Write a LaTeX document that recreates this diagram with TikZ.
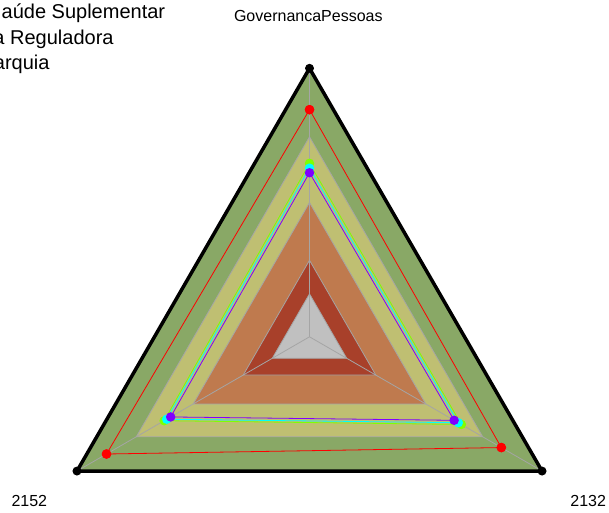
\documentclass[tikz,border=0pt]{standalone}
\usepackage{fontspec}
\setmainfont{Liberation Sans}
\definecolor{cgreen}{RGB}{137,168,102}
\definecolor{cyellow}{RGB}{191,191,114}
\definecolor{corange}{RGB}{191,122,78}
\definecolor{cdred}{RGB}{168,64,42}
\definecolor{cgray}{RGB}{192,192,192}
\definecolor{axisgray}{RGB}{165,165,165}
\definecolor{slime}{RGB}{128,255,0}
\definecolor{scyan}{RGB}{0,255,255}
\definecolor{spurple}{RGB}{128,0,255}
\definecolor{sred}{RGB}{255,0,0}
\newcommand{\mytri}[1]{(90:{#1*268.5}) -- (210:{#1*268.5}) -- (330:{#1*268.5}) -- cycle}
\begin{document}
\begin{tikzpicture}[x=1pt,y=1pt,
  band/.style={draw=axisgray, line width=0.8pt},
  axisline/.style={draw=axisgray, line width=0.8pt},
  vdot/.style={circle, fill=black, inner sep=0pt, minimum size=9pt},
  sdot/.style={circle, fill=#1, inner sep=0pt, minimum size=9.5pt},
  sline/.style={draw=#1, line width=0.8pt},
  axlabel/.style={font=\fontsize{16}{19}\selectfont, inner sep=0pt, anchor=base},
  leglabel/.style={font=\fontsize{20}{24}\selectfont, inner sep=0pt, anchor=base west}]
\useasboundingbox (0,0) rectangle (609,512);
\node[leglabel] (lg1) at (1.5,493) {aúde Suplementar};
\node[leglabel] (lg2) at (-6.7,467) {a Reguladora};
\node[leglabel] (lg3) at (-6.3,442) {arquia};
\node[axlabel] (labtop) at (308.3,490.3) {GovernancaPessoas};
\node[axlabel] (labbl) at (29.3,5.3) {2152};
\node[axlabel] (labbr) at (588.2,5.3) {2132};
\begin{scope}[shift={(309.5,175.2)}]
  \coordinate (O) at (0,0);
  \fill[cgreen, band] \mytri{1.0};
  \fill[cyellow, band] \mytri{0.745};
  \fill[corange, band] \mytri{0.5};
  \fill[cdred, band] \mytri{0.285};
  \fill[cgray, band] \mytri{0.16};
  \coordinate (vt) at (90:268.5);
  \coordinate (vl) at (210:268.5);
  \coordinate (vr) at (330:268.5);
  \draw[axisline] (O) -- (vt);
  \draw[axisline] (O) -- (vl);
  \draw[axisline] (O) -- (vr);
  \draw[line width=3.5pt, line join=round] (vt) -- (vl) -- (vr) -- cycle;
  \node[vdot] (dt) at (vt) {};
  \node[vdot] (dl) at (vl) {};
  \node[vdot] (dr) at (vr) {};
  % red series
  \node[sdot=sred] (r1) at (90:{0.846*268.5}) {};
  \node[sdot=sred] (r2) at (210:{0.873*268.5}) {};
  \node[sdot=sred] (r3) at (330:{0.825*268.5}) {};
  \draw[sline=sred] (r1.center) -- (r2.center) -- (r3.center) -- cycle;
  \node[sdot=sred] at (r1) {};
  \node[sdot=sred] at (r2) {};
  \node[sdot=sred] at (r3) {};
  % lime series
  \coordinate (g1) at (90:{0.646*268.5});
  \coordinate (g2) at (210:{0.625*268.5});
  \coordinate (g3) at (330:{0.653*268.5});
  \draw[sline=slime] (g1) -- (g2) -- (g3) -- cycle;
  \node[sdot=slime] (gd1) at (g1) {};
  \node[sdot=slime] (gd2) at (g2) {};
  \node[sdot=slime] (gd3) at (g3) {};
  % cyan series
  \coordinate (c1) at (90:{0.628*268.5});
  \coordinate (c2) at (210:{0.614*268.5});
  \coordinate (c3) at (330:{0.640*268.5});
  \draw[sline=scyan] (c1) -- (c2) -- (c3) -- cycle;
  \node[sdot=scyan] (cd1) at (c1) {};
  \node[sdot=scyan] (cd2) at (c2) {};
  \node[sdot=scyan] (cd3) at (c3) {};
  % purple series
  \coordinate (p1) at (90:{0.611*268.5});
  \coordinate (p2) at (210:{0.597*268.5});
  \coordinate (p3) at (330:{0.622*268.5});
  \draw[sline=spurple] (p1) -- (p2) -- (p3) -- cycle;
  \node[sdot=spurple] (pd1) at (p1) {};
  \node[sdot=spurple] (pd2) at (p2) {};
  \node[sdot=spurple] (pd3) at (p3) {};
\end{scope}
\end{tikzpicture}
\end{document}
